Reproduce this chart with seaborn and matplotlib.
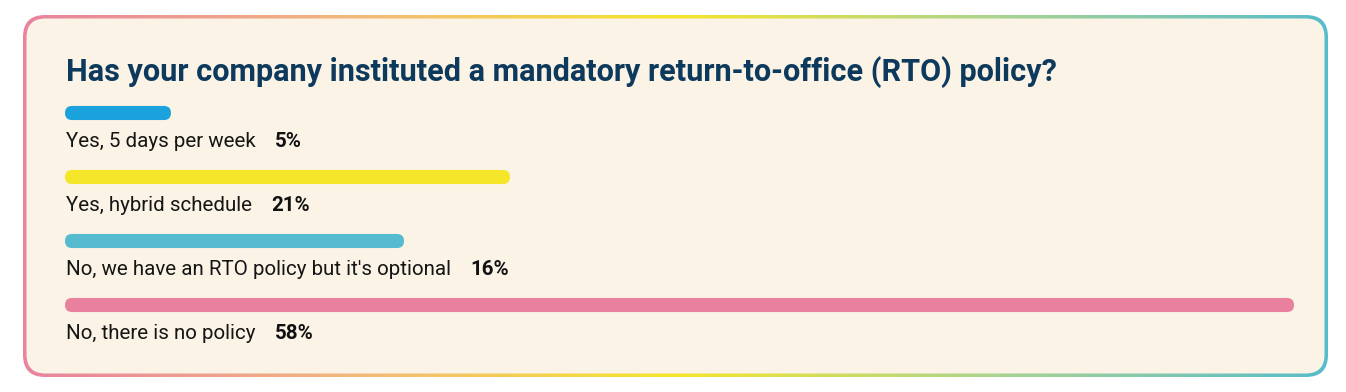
import numpy as np
import pandas as pd
import seaborn as sns
import matplotlib
matplotlib.use("Agg")
import matplotlib.pyplot as plt
from matplotlib import font_manager
from matplotlib.patches import FancyBboxPatch
from matplotlib.colors import LinearSegmentedColormap

title = "Has your company instituted a mandatory return-to-office (RTO) policy?"
answers = ["Yes, 5 days per week",
           "Yes, hybrid schedule",
           "No, we have an RTO policy but it's optional",
           "No, there is no policy"]
shares = [5, 21, 16, 58]
bar_colors = ["#1ba1dc", "#f5e62a", "#55bbcf", "#e9819e"]
border_colors = ["#e9839f", "#f2b77c", "#f6e52b", "#a8d391", "#58bccc"]


def pick_font(*names):
    for n in names:
        try:
            font_manager.findfont(font_manager.FontProperties(family=n),
                                  fallback_to_default=False)
            return n
        except ValueError:
            pass
    return "DejaVu Sans"


sns.set_theme(style="white")
font = pick_font("Liberation Sans Narrow", "Roboto", "DejaVu Sans")
plt.rcParams["font.family"] = [font, "DejaVu Sans"]
narrow = font == "Liberation Sans Narrow"

W, H = 1346, 392
fig = plt.figure(figsize=(W / 100, H / 100), dpi=100, facecolor="white")

# card with gradient border
bg = fig.add_axes([0, 0, 1, 1])
bg.axis("off")
outer = FancyBboxPatch((23, 15), 1305, 362, boxstyle="round,pad=0,rounding_size=22",
                       fc="none", ec="none")
bg.add_patch(outer)
cmap = LinearSegmentedColormap.from_list("border", border_colors)
im = bg.imshow(np.linspace(0, 1, 256).reshape(1, -1), cmap=cmap,
               extent=(23, 1328, 377, 15), aspect="auto")
im.set_clip_path(outer)
bg.add_patch(FancyBboxPatch((26.5, 18.5), 1298, 355,
                            boxstyle="round,pad=0,rounding_size=19",
                            fc="#faf3e6", ec="none"))
bg.set_xlim(0, W)
bg.set_ylim(H, 0)

renderer = fig.canvas.get_renderer()

t = bg.text(66, 81, title, fontsize=20, fontweight="bold", color="#0d3a5c",
            va="baseline", ha="left")
w = t.get_window_extent(renderer).width
t.set_fontsize(20 * (940 if narrow else 990) / w)

# bars
ax = fig.add_axes([65 / W, 1 - 337 / H, 1229 / W, 256 / H])
ax.patch.set_alpha(0)
df = pd.DataFrame({"answer": answers, "share": shares})
sns.barplot(data=df, x="share", y="answer", hue="answer", palette=bar_colors,
            width=0.22, legend=False, ax=ax, saturation=1)
ax.set_xlim(0, max(shares))
ax.set_ylim(len(answers) - 0.5, -0.5)

px_x = 1229 / max(shares)
r = 7 / px_x
for p in list(ax.patches):
    fc = p.get_facecolor()
    x0, y0, pw, ph = p.get_x(), p.get_y(), p.get_width(), p.get_height()
    p.set_visible(False)
    ax.add_patch(FancyBboxPatch((x0, y0), pw, ph,
                                boxstyle=f"round,pad=0,rounding_size={r}",
                                mutation_aspect=px_x / 64, fc=fc, ec="none"))

# labels under bars
labels = []
for i, a in enumerate(answers):
    labels.append(ax.text(0.03, i + 0.537, a, fontsize=15, color="#151515",
                          va="baseline", ha="left"))
lw = labels[2].get_window_extent(renderer).width
lfs = 15 * (326 if narrow else 385) / lw
for lab in labels:
    lab.set_fontsize(lfs)

inv = ax.transData.inverted()
for i, (lab, s) in enumerate(zip(labels, shares)):
    right = lab.get_window_extent(renderer).x1
    xd = inv.transform((right + 20, 0))[0]
    ax.text(xd, i + 0.537, f"{s}%", fontsize=lfs, fontweight="bold",
            color="#111111", va="baseline", ha="left")

ax.set_xlabel("")
ax.set_ylabel("")
ax.set_xticks([])
ax.set_yticks([])
sns.despine(ax=ax, left=True, bottom=True)

fig.savefig("out.png", dpi=100, facecolor="white")
